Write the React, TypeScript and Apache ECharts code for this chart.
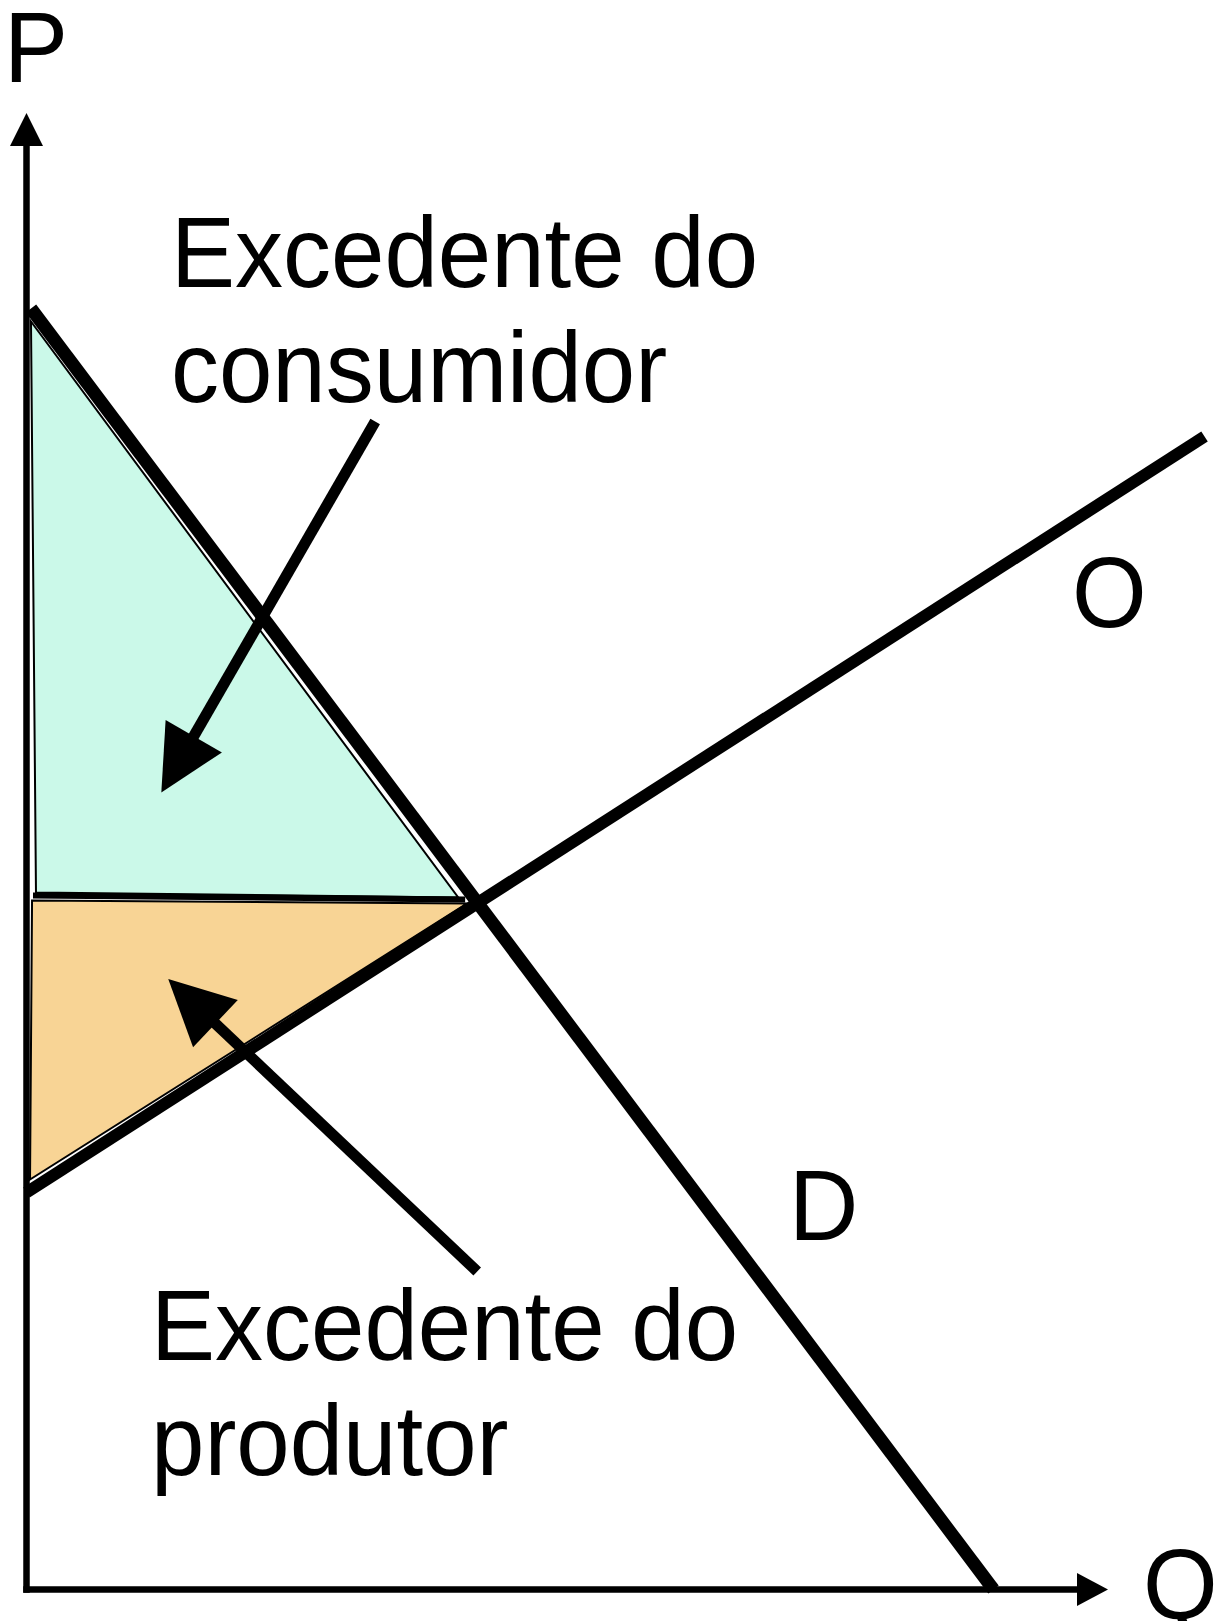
import React, { useEffect, useRef } from "react";
import * as echarts from "echarts";

// Data in chart units (quantity on x, price on y), axes run from 0 to 100
const axisRange = [0, 100];
const demandLine = [[0.42, 87.74], [90.71, 0]];
const supplyLine = [[0, 27.19], [110.51, 78.97]];
const consumerSurplus = [[0.42, 86.85], [0.89, 47.74], [40.5, 47.4]];
const producerSurplus = [[0.52, 47.19], [41.34, 46.99], [0.33, 28.08]];
const priceLine = [[0.61, 47.53], [41.15, 47.26]];
const consumerArrow = [[32.71, 80.0], [14.17, 56.52]];
const producerArrow = [[42.28, 21.78], [15.51, 40.29]];

const axisNames = ["P", "Q"];
const curveNames = ["O", "D"];
const areaLabels = ["Excedente do\nconsumidor", "Excedente do\nprodutor"];

const FONT = '96px "Liberation Sans", Arial, sans-serif';

function txt(text: string, x: number, y: number, lineHeight = 110) {
  return {
    type: "text",
    x,
    y,
    scaleY: 1.04,
    silent: true,
    style: {
      text,
      font: FONT,
      fill: "#000",
      lineHeight,
      align: "left",
      textAlign: "left",
      verticalAlign: "middle",
      textVerticalAlign: "middle",
    },
  };
}

function polygonSeries(points: number[][], fill: string) {
  return {
    type: "custom",
    coordinateSystem: "cartesian2d",
    data: [[0, 0]],
    clip: false,
    silent: true,
    z: 1,
    renderItem: (_p: any, api: any) => ({
      type: "polygon",
      shape: { points: points.map((pt) => api.coord(pt)) },
      style: { fill, stroke: "#000", lineWidth: 2 },
    }),
  };
}

function lineSeries(points: number[][], width: number, z: number) {
  return {
    type: "custom",
    coordinateSystem: "cartesian2d",
    data: [[0, 0]],
    clip: false,
    silent: true,
    z,
    renderItem: (_p: any, api: any) => ({
      type: "polyline",
      shape: { points: points.map((pt) => api.coord(pt)) },
      style: { fill: null, stroke: "#000", lineWidth: width, lineCap: "butt" },
    }),
  };
}

function arrowSeries(points: number[][]) {
  return {
    type: "lines",
    coordinateSystem: "cartesian2d",
    silent: true,
    clip: false,
    z: 6,
    data: [{ coords: points }],
    symbol: ["none", "triangle"],
    symbolSize: [66, 65],
    lineStyle: { color: "#000", width: 11, opacity: 1, curveness: 0 },
  };
}

export default function App() {
  const ref = useRef<HTMLDivElement>(null);
  useEffect(() => {
    if (!ref.current) return;
    const chart = echarts.init(ref.current, null, { renderer: "svg" });
    const axisCommon = {
      type: "value",
      min: axisRange[0],
      max: axisRange[1],
      axisTick: { show: false },
      axisLabel: { show: false },
      splitLine: { show: false },
    };
    chart.setOption({
      animation: false,
      backgroundColor: "#ffffff",
      grid: { left: 26.5, top: 129.5, width: 1066, height: 1460 },
      xAxis: {
        ...axisCommon,
        axisLine: {
          show: true,
          onZero: false,
          symbol: ["none", "triangle"],
          symbolSize: [33, 31],
          lineStyle: { color: "#000", width: 6.5, cap: "square" },
        },
      },
      yAxis: {
        ...axisCommon,
        axisLine: {
          show: true,
          onZero: false,
          symbol: ["none", "triangle"],
          symbolSize: [33, 33],
          lineStyle: { color: "#000", width: 6.5, cap: "square" },
        },
      },
      series: [
        polygonSeries(consumerSurplus, "#CBF9E9"),
        polygonSeries(producerSurplus, "#F8D495"),
        lineSeries(priceLine, 6, 2),
        lineSeries(supplyLine, 12, 3),
        lineSeries(demandLine, 13, 4),
        arrowSeries(consumerArrow),
        arrowSeries(producerArrow),
      ],
      graphic: [
        txt(axisNames[0], 4, 47, 76),
        txt(axisNames[1], 1143, 1584, 70),
        txt(curveNames[0], 1072, 592),
        txt(curveNames[1], 789, 1205),
        txt(areaLabels[0], 171, 310, 110),
        txt(areaLabels[1], 151, 1383, 111),
      ],
    });
    return () => chart.dispose();
  }, []);
  return (
    <div
      ref={ref}
      style={{ position: "absolute", left: 0, top: 0, width: 1219, height: 1621 }}
    />
  );
}
